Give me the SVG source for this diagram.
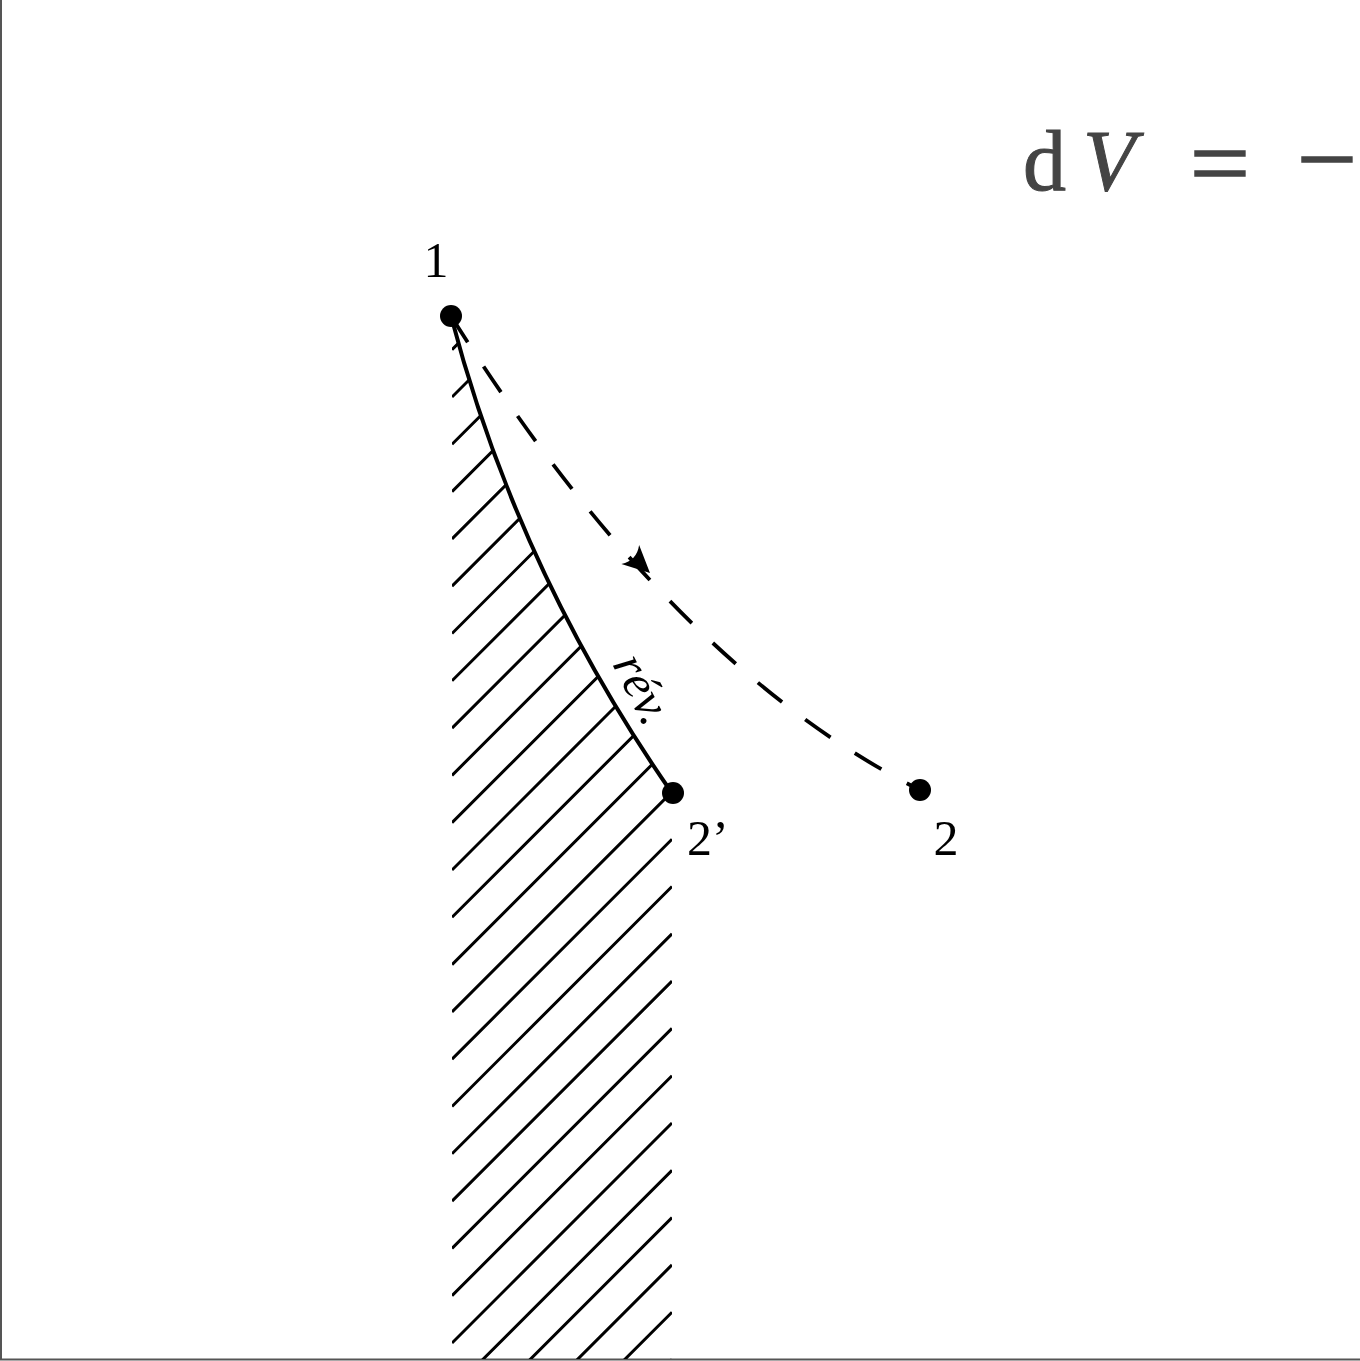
<svg xmlns="http://www.w3.org/2000/svg" width="1360" height="1361" viewBox="0 0 1360 1361">
  <style>
    .lbl { font-family: "Liberation Serif", "Times New Roman", serif; font-size: 50px; fill: #000; }
    .math { font-family: "Liberation Serif", "Times New Roman", serif; font-size: 86px; fill: #444; stroke: #444; stroke-width: 1; }
    .op { font-family: "Liberation Serif", "Times New Roman", serif; font-size: 100px; fill: #444; stroke: #444; stroke-width: 1.5; }
    .pt { fill: #000; }
    .hatch { stroke: #000; stroke-width: 3; fill: none; }
    .solid { stroke: #000; stroke-width: 4; fill: none; }
    .dash { stroke: #000; stroke-width: 3.8; fill: none; stroke-dasharray: 31 29; }
    .frame { stroke: #555; stroke-width: 2; fill: none; }
  </style>
  <defs>
    <clipPath id="hatchClip">
      <path d="M451 316 Q518 572 672 793 L672 1359 L452 1359 L452 316 Z"/>
    </clipPath>
  </defs>
  <rect x="0" y="0" width="1360" height="1361" fill="#fff"/>
  <g id="frame">
    <line class="frame" x1="1" y1="0" x2="1" y2="1360"/>
    <line class="frame" x1="0" y1="1359.5" x2="1360" y2="1359.5"/>
  </g>
  <g id="formula">
    <text class="math" x="1023" y="190">d</text>
    <text class="math" x="1083" y="190" font-style="italic">V</text>
    <text class="op" text-anchor="middle" transform="translate(1220 197) scale(1.07 1)">=</text>
    <text class="op" text-anchor="middle" transform="translate(1327 193) scale(1.07 1)">−</text>
  </g>
  <g id="hatching" clip-path="url(#hatchClip)">
    <path class="hatch" d="M452 349.7 L672 129.7 M452 397 L672 177 M452 444.3 L672 224.3 M452 491.6 L672 271.6 M452 538.9 L672 318.9 M452 586.2 L672 366.2 M452 633.5 L672 413.5 M452 680.8 L672 460.8 M452 728.1 L672 508.1 M452 775.4 L672 555.4 M452 822.7 L672 602.7 M452 870 L672 650 M452 917.3 L672 697.3 M452 964.6 L672 744.6 M452 1011.9 L672 791.9 M452 1059.2 L672 839.2 M452 1106.5 L672 886.5 M452 1153.8 L672 933.8 M452 1201.1 L672 981.1 M452 1248.4 L672 1028.4 M452 1295.7 L672 1075.7 M452 1343 L672 1123 M452 1390.3 L672 1170.3 M452 1437.6 L672 1217.6 M452 1484.9 L672 1264.9 M452 1532.2 L672 1312.2 M452 1579.5 L672 1359.5"/>
  </g>
  <g id="connectors">
    <path id="rev-path" class="solid" d="M451 316 Q518 572 672 793"/>
    <path id="irrev-path" class="dash" d="M451 316 Q669 664 920 790"/>
    <path id="irrev-arrow" fill="#000" d="M0 0 L-27 -13 Q-18 0 -27 13 Z" transform="translate(650 573) rotate(43)"/>
    <text class="lbl" font-style="italic" font-size="48" transform="translate(612 664) rotate(63)">rév.</text>
  </g>
  <g id="p1">
    <circle class="pt" cx="451" cy="316" r="11"/>
    <text class="lbl" x="436" y="277" text-anchor="middle">1</text>
  </g>
  <g id="p2prime">
    <circle class="pt" cx="673" cy="793" r="11"/>
    <text class="lbl" x="687" y="855">2’</text>
  </g>
  <g id="p2">
    <circle class="pt" cx="920" cy="790" r="11"/>
    <text class="lbl" x="946" y="855" text-anchor="middle">2</text>
  </g>
</svg>
